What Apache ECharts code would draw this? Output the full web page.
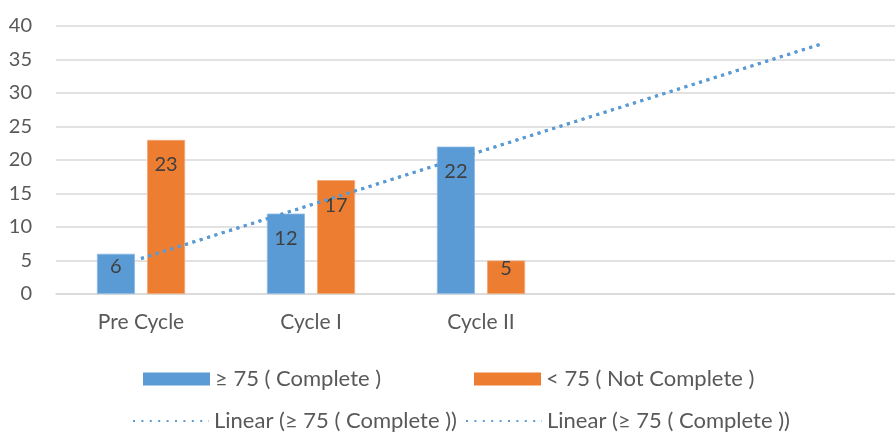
<!DOCTYPE html>
<html>
<head>
<meta charset="utf-8">
<script src="https://cdn.jsdelivr.net/npm/echarts@6/dist/echarts.min.js"></script>
<style>
  html, body { margin: 0; padding: 0; background: #fff; }
  #chart { width: 895px; height: 432px; }
</style>
</head>
<body>
<div id="chart"></div>
<script>
// Categories (two trailing periods hold the forward trend projection)
const categories = ['Pre Cycle', 'Cycle I', 'Cycle II', '', ''];
const completeValues = [6, 12, 22];
const notCompleteValues = [23, 17, 5];
// Linear trend of the "complete" series, carried two periods forward
const trendValues = [5.3, 13.3, 21.3, 29.3, 37.3];
const yTicks = [0, 5, 10, 15, 20, 25, 30, 35, 40];

const NAME_A = '≥ 75 ( Complete )';
const NAME_B = '< 75 ( Not Complete )';
const NAME_T1 = 'Linear (≥ 75 ( Complete ))';
const NAME_T2 = 'Linear (≥ 75 ( Complete )) ';

const BLUE = '#5B9BD5';
const ORANGE = '#ED7D31';
const FONT = 'Lato, "Open Sans", sans-serif';
const TEXT = '#595959';

const chart = echarts.init(document.getElementById('chart'));

const labelBase = {
  show: true,
  position: 'insideTop',
  distance: 15,
  color: '#404040',
  fontSize: 20,
  fontFamily: FONT
};

function barData(values, smallDistance) {
  return values.map(function (v) {
    if (v <= 6) {
      return { value: v, label: { distance: smallDistance } };
    }
    return v;
  });
}

const legendCommon = {
  orient: 'horizontal',
  padding: 0,
  itemGap: 10,
  textStyle: { color: TEXT, fontSize: 22, fontFamily: FONT, padding: [0, 0, 4, 0] },
  selectedMode: false
};

const barLegend = {
  itemWidth: 67,
  itemHeight: 13,
  top: 368,
  itemStyle: { borderWidth: 0 }
};

const lineLegend = {
  itemWidth: 76,
  itemHeight: 15,
  top: 410,
  itemStyle: { opacity: 0 },
  lineStyle: { width: 2, type: [2, 6.4] }
};

chart.setOption({
  animation: false,
  grid: { left: 56, width: 850, top: 26, height: 268, outerBoundsMode: 'none', containLabel: false },
  xAxis: {
    type: 'category',
    data: categories,
    axisLine: { show: true, lineStyle: { color: '#D9D9D9', width: 1.5 } },
    axisTick: { show: false },
    axisLabel: { color: TEXT, fontSize: 21, fontFamily: FONT, margin: 18 },
    splitLine: { show: false }
  },
  yAxis: {
    type: 'value',
    min: yTicks[0],
    max: yTicks[yTicks.length - 1],
    interval: yTicks[1] - yTicks[0],
    axisLine: { show: false },
    axisTick: { show: false },
    axisLabel: { color: TEXT, fontSize: 20, fontFamily: FONT, margin: 24 },
    splitLine: { lineStyle: { color: '#D9D9D9', width: 1.5 } }
  },
  legend: [
    Object.assign({}, legendCommon, barLegend, { data: [{ name: NAME_A, icon: 'rect' }], left: 143 }),
    Object.assign({}, legendCommon, barLegend, { data: [{ name: NAME_B, icon: 'rect' }], left: 474 }),
    Object.assign({}, legendCommon, lineLegend, { data: [NAME_T1], left: 132 }),
    Object.assign({}, legendCommon, lineLegend, { data: [NAME_T2], left: 465 })
  ],
  series: [
    {
      name: NAME_A,
      type: 'bar',
      data: barData(completeValues, 3),
      barWidth: 38,
      barGap: '32%',
      itemStyle: { color: BLUE, borderColor: '#8DB9E3', borderWidth: 0.8 },
      label: labelBase
    },
    {
      name: NAME_B,
      type: 'bar',
      data: barData(notCompleteValues, -2),
      barWidth: 38,
      itemStyle: { color: ORANGE, borderColor: '#F3A877', borderWidth: 0.8 },
      label: labelBase
    },
    {
      name: NAME_T1,
      type: 'line',
      data: trendValues,
      symbol: 'none',
      itemStyle: { color: BLUE },
      lineStyle: { color: BLUE, width: 3, type: [3, 4.7] },
      z: 5
    },
    {
      name: NAME_T2,
      type: 'line',
      data: trendValues,
      symbol: 'none',
      itemStyle: { color: BLUE },
      lineStyle: { color: BLUE, width: 3, type: [3, 4.7] },
      z: 5
    }
  ]
});
</script>
</body>
</html>
